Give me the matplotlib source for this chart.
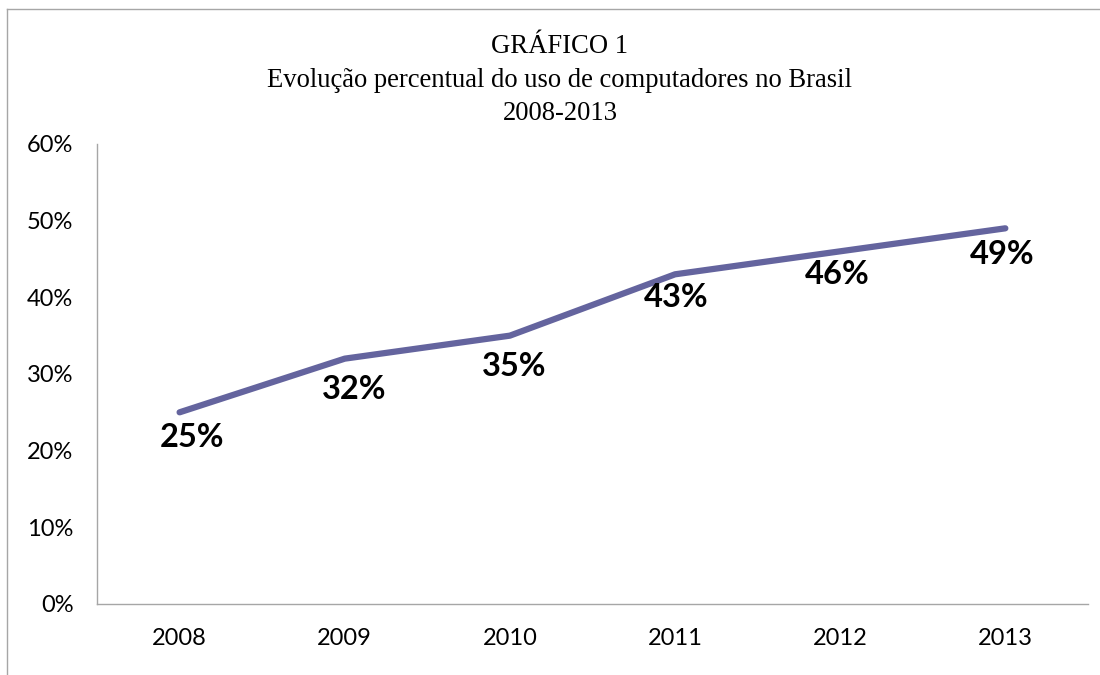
import matplotlib.pyplot as plt
from matplotlib.lines import Line2D
from matplotlib.ticker import FuncFormatter

# uso de computadores no Brasil (%)
anos = ['2008', '2009', '2010', '2011', '2012', '2013']
percentuais = [25, 32, 35, 43, 46, 49]
y_ticks = [0, 10, 20, 30, 40, 50, 60]

titulo = 'GRÁFICO 1\nEvolução percentual do uso de computadores no Brasil\n2008-2013'

# deslocamento dos rótulos em relação ao ponto (pontos tipográficos)
desloc_x = [8.9, 6.6, 2.9, 1.1, -2.4, -2.6]
desloc_y = [-24.7, -29.4, -29.3, -23.8, -23.8, -25.9]

fig = plt.figure(figsize=(11, 6.75), dpi=100)
ax = fig.add_axes([0.0882, 0.1052, 0.9008, 0.6815])

x = list(range(len(anos)))
ax.plot(x, percentuais, color='#64649E', linewidth=4.5, solid_capstyle='round',
        solid_joinstyle='round')

# rótulos de valor abaixo de cada ponto
for xi, v, dx, dy in zip(x, percentuais, desloc_x, desloc_y):
    ax.annotate(f'{v}%', (xi, v), xytext=(dx, dy), textcoords='offset points',
                ha='center', va='baseline', fontsize=23.5, fontweight='bold',
                family='Lato', color='black')

ax.set_xlim(-0.5, len(anos) - 0.5)
ax.set_ylim(0, 60)
ax.set_xticks(x)
ax.set_xticklabels(anos)
ax.set_yticks(y_ticks)
ax.yaxis.set_major_formatter(FuncFormatter(lambda v, p: f'{v:.0f}%'))
ax.tick_params(length=0, labelsize=17, pad=17)
for lab in ax.get_xticklabels() + ax.get_yticklabels():
    lab.set_family('Lato')

for s in ['top', 'right']:
    ax.spines[s].set_visible(False)
for s in ['left', 'bottom']:
    ax.spines[s].set_color('#A6A6A6')
    ax.spines[s].set_linewidth(1)

fig.text(560 / 1100, 1 - 120 / 675, titulo, ha='center', va='baseline',
         family='Liberation Serif', fontsize=19.2, linespacing=1.44)

# moldura do gráfico (só esquerda e topo visíveis)
fx = 7 / 1100
fy = 1 - 9 / 675
fig.add_artist(Line2D([fx, fx], [0, fy], transform=fig.transFigure,
                      color='#A6A6A6', linewidth=1))
fig.add_artist(Line2D([fx, 1], [fy, fy], transform=fig.transFigure,
                      color='#A6A6A6', linewidth=1))

fig.savefig('out.png', dpi=100)
